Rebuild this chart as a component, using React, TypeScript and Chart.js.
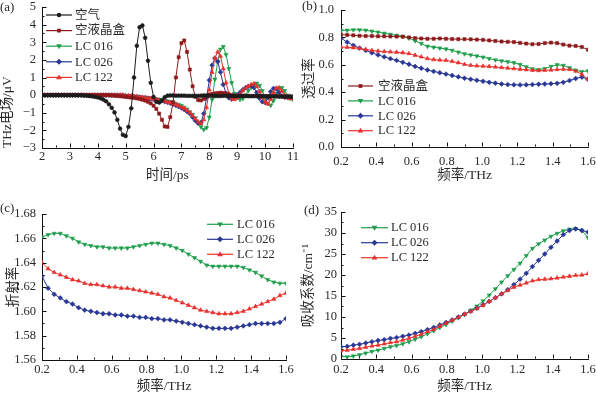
import React, { useEffect, useRef } from 'react';
import Chart from 'chart.js/auto';

const FONT = "'Liberation Serif', 'Noto Sans CJK SC', serif";
const TXT = '#2a2a2a';

// ---------- panel (a): time-domain THz field ----------
const timePs = [
  2.0, 2.1, 2.2, 2.3, 2.4, 2.5, 2.6, 2.7, 2.8, 2.9,
  3.0, 3.1, 3.2, 3.3, 3.4, 3.5, 3.6, 3.7, 3.8, 3.9,
  4.0, 4.1, 4.2, 4.3, 4.4, 4.5, 4.6, 4.7, 4.8, 4.9,
  5.0, 5.1, 5.2, 5.3, 5.4, 5.5, 5.6, 5.7, 5.8, 5.9,
  6.0, 6.1, 6.2, 6.3, 6.4, 6.5, 6.6, 6.7, 6.8, 6.9,
  7.0, 7.1, 7.2, 7.3, 7.4, 7.5, 7.6, 7.7, 7.8, 7.9,
  8.0, 8.1, 8.2, 8.3, 8.4, 8.5, 8.6, 8.7, 8.8, 8.9,
  9.0, 9.1, 9.2, 9.3, 9.4, 9.5, 9.6, 9.7, 9.8, 9.9,
  10.0, 10.1, 10.2, 10.3, 10.4, 10.5, 10.6, 10.7, 10.8, 10.9, 11.0,
];
const fieldAir = [
  0, 0, 0, 0, 0, 0, 0, 0, 0, 0,
  0, 0, 0, 0, 0, -0.02, -0.03, -0.05, -0.07, -0.1,
  -0.13, -0.18, -0.25, -0.35, -0.52, -0.72, -0.98, -1.4, -1.9, -2.25,
  -2.32, -1.8, -0.75, 1.0, 2.8, 3.85, 3.95, 3.25, 1.95, 0.7,
  -0.1, -0.38, -0.42, -0.3, -0.12, -0.03, -0.02, -0.02, -0.03, -0.03,
  -0.03, -0.03, -0.04, -0.04, -0.04, -0.04, -0.04, -0.03, -0.02, -0.02,
  -0.03, -0.04, -0.05, -0.05, -0.05, -0.04, -0.04, -0.05, -0.05, -0.06,
  -0.06, -0.05, -0.05, -0.05, -0.06, -0.06, -0.06, -0.05, -0.05, -0.06,
  -0.06, -0.07, -0.07, -0.07, -0.07, -0.08, -0.08, -0.08, -0.09, -0.09, -0.1,
];
const fieldEmptyCell = [
  0, 0, 0, 0, 0, 0, 0, 0, 0, 0,
  0, 0, 0, 0, 0, 0, 0, 0, 0, 0,
  0, 0, 0, 0, 0, -0.02, -0.03, -0.05, -0.06, -0.08,
  -0.1, -0.12, -0.14, -0.16, -0.19, -0.22, -0.26, -0.31, -0.38, -0.47,
  -0.6, -0.78, -1.05, -1.4, -1.78, -1.8, -1.25, -0.4, 1.0, 2.15,
  2.95, 3.1, 2.45, 1.45, 0.5, -0.1, -0.28, -0.3, -0.22, -0.08,
  0.02, 0.07, 0.1, 0.12, 0.14, 0.12, 0.08, 0.03, 0.0, -0.02,
  -0.03, -0.03, -0.04, -0.04, -0.04, -0.05, -0.05, -0.05, -0.05, -0.05,
  -0.06, -0.06, -0.06, -0.06, -0.07, -0.07, -0.07, -0.08, -0.08, -0.08, -0.09,
];
const fieldLC016 = [
  0, 0, 0, 0, 0, 0, 0, 0, 0, 0,
  0, 0, 0, 0, 0, 0, 0, 0, 0, 0,
  0, 0, 0, 0, 0, 0, 0, 0, 0, 0,
  -0.03, -0.04, -0.05, -0.06, -0.08, -0.1, -0.12, -0.13, -0.15, -0.17,
  -0.2, -0.22, -0.25, -0.27, -0.3, -0.34, -0.38, -0.43, -0.48, -0.54,
  -0.6, -0.7, -0.8, -0.95, -1.1, -1.3, -1.55, -1.8, -1.95, -1.85,
  -1.25, -0.25, 0.9, 1.9, 2.6, 2.75, 2.3, 1.5, 0.7, 0.1,
  -0.15, -0.25, -0.2, 0.0, 0.25, 0.45, 0.6, 0.67, 0.55, 0.25,
  -0.15, -0.48, -0.58, -0.32, 0.1, 0.4, 0.42, 0.25, 0.0, -0.18, -0.25,
];
const fieldLC026 = [
  0, 0, 0, 0, 0, 0, 0, 0, 0, 0,
  0, 0, 0, 0, 0, 0, 0, 0, 0, 0,
  0, 0, 0, 0, 0, 0, 0, 0, 0, 0,
  -0.04, -0.05, -0.06, -0.08, -0.1, -0.12, -0.14, -0.16, -0.18, -0.21,
  -0.24, -0.27, -0.3, -0.33, -0.37, -0.41, -0.46, -0.52, -0.58, -0.65,
  -0.72, -0.82, -0.93, -1.05, -1.25, -1.45, -1.6, -1.55, -1.05, -0.15,
  0.85, 1.7, 2.1, 1.9, 1.3, 0.6, 0.1, -0.15, -0.22, -0.15,
  0.0, 0.15, 0.3, 0.42, 0.5, 0.52, 0.42, 0.15, -0.18, -0.38,
  -0.42, -0.15, 0.2, 0.38, 0.35, 0.15, -0.05, -0.12, -0.12, -0.1, -0.1,
];
const fieldLC122 = [
  0, 0, 0, 0, 0, 0, 0, 0, 0, 0,
  0, 0, 0, 0, 0, 0, 0, 0, 0, 0,
  0, 0, 0, 0, 0, 0, 0, 0, 0, 0,
  -0.03, -0.04, -0.05, -0.07, -0.09, -0.11, -0.13, -0.15, -0.17, -0.19,
  -0.22, -0.25, -0.28, -0.31, -0.35, -0.39, -0.43, -0.48, -0.54, -0.6,
  -0.67, -0.76, -0.87, -1.0, -1.17, -1.35, -1.52, -1.62, -1.4, -0.7,
  0.3, 1.3, 2.1, 2.45, 2.2, 1.5, 0.7, 0.1, -0.2, -0.25,
  -0.15, 0.05, 0.25, 0.4, 0.5, 0.6, 0.65, 0.5, 0.2, -0.15,
  -0.4, -0.5, -0.25, 0.15, 0.4, 0.42, 0.22, -0.02, -0.15, -0.2, -0.2,
];
const aXTicks = [2, 3, 4, 5, 6, 7, 8, 9, 10, 11];
const aXLabels = ['2', '3', '4', '5', '6', '7', '8', '9', '10', '11'];
const aYTicks = [-3, -2, -1, 0, 1, 2, 3, 4, 5];
const aYLabels = ['\u22123', '\u22122', '\u22121', '0', '1', '2', '3', '4', '5'];

// ---------- frequency grid (b, c, d) ----------
const freqTHz = [
  0.2, 0.235, 0.27, 0.305, 0.34, 0.375, 0.41, 0.445, 0.48, 0.515,
  0.55, 0.585, 0.62, 0.655, 0.69, 0.725, 0.76, 0.795, 0.83, 0.865,
  0.9, 0.935, 0.97, 1.005, 1.04, 1.075, 1.11, 1.145, 1.18, 1.215,
  1.25, 1.285, 1.32, 1.355, 1.39, 1.425, 1.46, 1.495, 1.53, 1.565, 1.6,
];
const freqTicks = [0.2, 0.4, 0.6, 0.8, 1.0, 1.2, 1.4, 1.6];
const freqLabels = ['0.2', '0.4', '0.6', '0.8', '1.0', '1.2', '1.4', '1.6'];

// ---------- panel (b): transmittance ----------
const transEmptyCell = [
  0.82, 0.818, 0.815, 0.812, 0.81, 0.81, 0.808, 0.808, 0.807, 0.806,
  0.805, 0.8, 0.795, 0.792, 0.79, 0.79, 0.792, 0.79, 0.788, 0.787,
  0.787, 0.786, 0.784, 0.782, 0.778, 0.774, 0.77, 0.768, 0.766, 0.76,
  0.755, 0.75, 0.752, 0.758, 0.762, 0.758, 0.748, 0.74, 0.738, 0.73, 0.71,
];
const transLC016 = [
  0.85, 0.852, 0.855, 0.855, 0.852, 0.845, 0.838, 0.83, 0.822, 0.815,
  0.808, 0.795, 0.775, 0.755, 0.735, 0.728, 0.722, 0.715, 0.705, 0.692,
  0.68, 0.672, 0.664, 0.656, 0.645, 0.635, 0.628, 0.622, 0.615, 0.602,
  0.585, 0.57, 0.565, 0.572, 0.588, 0.6, 0.595, 0.578, 0.56, 0.55, 0.555,
];
const transLC026 = [
  0.795, 0.765, 0.742, 0.722, 0.705, 0.688, 0.672, 0.658, 0.645, 0.632,
  0.618, 0.604, 0.588, 0.575, 0.562, 0.552, 0.542, 0.532, 0.522, 0.512,
  0.502, 0.494, 0.487, 0.48, 0.472, 0.466, 0.46, 0.456, 0.454, 0.453,
  0.454, 0.456, 0.458, 0.46, 0.462, 0.465, 0.472, 0.485, 0.5, 0.51, 0.495,
];
const transLC122 = [
  0.73, 0.728, 0.725, 0.72, 0.712, 0.705, 0.7, 0.697, 0.694, 0.692,
  0.688, 0.682, 0.67, 0.658, 0.645, 0.638, 0.635, 0.632, 0.625, 0.615,
  0.603, 0.596, 0.592, 0.59, 0.588, 0.584, 0.58, 0.576, 0.572, 0.568,
  0.564, 0.56, 0.558, 0.56, 0.562, 0.566, 0.568, 0.566, 0.555, 0.53, 0.495,
];
const bYTicks = [0, 0.2, 0.4, 0.6, 0.8, 1.0];
const bYLabels = ['0.0', '0.2', '0.4', '0.6', '0.8', '1.0'];

// ---------- panel (c): refractive index ----------
const indexLC016 = [
  1.661, 1.663, 1.664, 1.664, 1.662, 1.66, 1.657, 1.655, 1.654, 1.653,
  1.653, 1.652, 1.652, 1.652, 1.652, 1.653, 1.654, 1.655, 1.656, 1.656,
  1.655, 1.654, 1.652, 1.65, 1.647, 1.644, 1.641, 1.638, 1.637, 1.637,
  1.637, 1.637, 1.637, 1.636, 1.634, 1.632, 1.629, 1.626, 1.624, 1.623, 1.623,
];
const indexLC026 = [
  1.629, 1.619, 1.614, 1.611, 1.608, 1.606, 1.603, 1.601, 1.6, 1.599,
  1.598, 1.598, 1.597, 1.597, 1.596, 1.596, 1.595, 1.595, 1.594, 1.594,
  1.593, 1.593, 1.592, 1.591, 1.59, 1.589, 1.588, 1.587, 1.586, 1.586,
  1.586, 1.586, 1.587, 1.588, 1.589, 1.59, 1.59, 1.59, 1.59, 1.591, 1.594,
];
const indexLC122 = [
  1.64, 1.635, 1.632, 1.63, 1.628, 1.626, 1.625, 1.623, 1.622, 1.622,
  1.621, 1.62, 1.62, 1.619, 1.619, 1.618, 1.617, 1.616, 1.615, 1.614,
  1.612, 1.611, 1.609, 1.607, 1.605, 1.603, 1.601, 1.6, 1.599, 1.598,
  1.598, 1.598, 1.599, 1.6, 1.602, 1.604, 1.606, 1.608, 1.61, 1.613, 1.615,
];
const cYTicks = [1.56, 1.58, 1.6, 1.62, 1.64, 1.66, 1.68];
const cYLabels = ['1.56', '1.58', '1.60', '1.62', '1.64', '1.66', '1.68'];

// ---------- panel (d): absorption coefficient ----------
const absorbLC016 = [
  0.6, 0.5, 0.7, 1.0, 1.4, 1.8, 2.1, 2.5, 2.9, 3.2,
  3.6, 4.1, 4.7, 5.3, 6.0, 6.7, 7.5, 8.2, 9.0, 9.8,
  10.6, 11.6, 12.6, 13.8, 15.2, 16.7, 18.3, 19.8, 21.3, 22.8,
  24.6, 26.3, 27.4, 28.3, 29.2, 29.9, 30.5, 30.9, 31.0, 30.6, 28.9,
];
const absorbLC026 = [
  2.9, 3.0, 3.3, 3.5, 3.8, 4.1, 4.4, 4.6, 4.9, 5.1,
  5.4, 5.7, 6.1, 6.5, 7.0, 7.5, 8.1, 8.7, 9.3, 10.0,
  10.7, 11.4, 12.1, 12.9, 13.7, 14.6, 15.5, 16.5, 17.7, 19.0,
  20.4, 22.0, 23.5, 25.0, 26.6, 28.1, 29.6, 30.6, 31.0, 30.6, 30.2,
];
const absorbLC122 = [
  2.0, 2.1, 2.3, 2.5, 2.8, 3.1, 3.3, 3.6, 3.9, 4.1,
  4.5, 4.9, 5.4, 5.9, 6.5, 7.0, 7.8, 8.5, 9.2, 9.9,
  10.6, 11.3, 12.0, 12.8, 13.7, 14.6, 15.5, 16.3, 17.1, 17.6,
  18.1, 18.6, 18.9, 19.0, 19.1, 19.3, 19.5, 19.7, 19.9, 20.0, 20.3,
];
const dYTicks = [0, 5, 10, 15, 20, 25, 30, 35];
const dYLabels = ['0', '5', '10', '15', '20', '25', '30', '35'];

// ---------- styling ----------
type Style = { label: string; color: string; style: string; rot: number; r: number };
const SERIES: Record<string, Style> = {
  air: { label: '空气', color: '#1c1c1c', style: 'circle', rot: 0, r: 1.9 },
  cell: { label: '空液晶盒', color: '#8e1a1c', style: 'rect', rot: 0, r: 2.2 },
  lc016: { label: 'LC 016', color: '#1f9e4c', style: 'triangle', rot: 180, r: 2.4 },
  lc026: { label: 'LC 026', color: '#2a3895', style: 'rectRot', rot: 0, r: 2.4 },
  lc122: { label: 'LC 122', color: '#e8312d', style: 'triangle', rot: 0, r: 2.4 },
};

function ds(key: string, xs: number[], ys: number[]) {
  const s = SERIES[key];
  return {
    label: s.label,
    data: xs.map((x, i) => ({ x, y: ys[i] })),
    borderColor: s.color,
    backgroundColor: s.color,
    borderWidth: 1,
    pointStyle: s.style,
    pointRotation: s.rot,
    pointRadius: s.r,
    pointBorderWidth: 0.6,
    pointHoverRadius: 0,
    tension: 0,
  };
}

function drawMarker(ctx: CanvasRenderingContext2D, st: Style, x: number, y: number) {
  const r = st.r + 0.3;
  ctx.fillStyle = st.color;
  ctx.beginPath();
  if (st.style === 'circle') {
    ctx.arc(x, y, r, 0, Math.PI * 2);
  } else if (st.style === 'rect') {
    ctx.rect(x - r * 0.75, y - r * 0.75, r * 1.5, r * 1.5);
  } else if (st.style === 'rectRot') {
    ctx.moveTo(x, y - r * 1.1); ctx.lineTo(x + r * 1.1, y); ctx.lineTo(x, y + r * 1.1); ctx.lineTo(x - r * 1.1, y);
  } else {
    const d = st.rot === 180 ? -1 : 1;
    ctx.moveTo(x, y - d * r * 1.1); ctx.lineTo(x + r * 1.05, y + d * r * 0.7); ctx.lineTo(x - r * 1.05, y + d * r * 0.7);
  }
  ctx.closePath();
  ctx.fill();
}

type Panel = {
  id: string; left: number; top: number; w: number; h: number;
  area: { left: number; top: number; right: number; bottom: number };
  datasets: any[];
  keys: string[];
  x: { min: number; max: number; ticks: number[]; labels: string[]; pad: number; title: string; titlePad: number };
  y: { min: number; max: number; ticks: number[]; labels: string[]; pad: number; title: string; titlePad: number; align: string };
  legend: { x1: number; x2: number; tx: number; y0: number; dy: number };
  tag: { text: string; x: number; y: number };
};

const tickFont = { family: FONT, size: 12.5, lineHeight: 1.2 };
const titleFont = { family: FONT, size: 13.5, lineHeight: 1 };

function mids(v: number[]) {
  const out: number[] = [];
  for (let i = 0; i < v.length - 1; i++) out.push((v[i] + v[i + 1]) / 2);
  return out;
}

function makeConfig(p: Panel) {
  const inTicks = {
    id: 'inTicks',
    afterDraw(chart: any) {
      const { ctx, chartArea: a, scales } = chart;
      ctx.save();
      ctx.strokeStyle = '#111';
      ctx.lineWidth = 1;
      ctx.beginPath();
      const xs = scales.x, ys = scales.y;
      const xb = Math.round(a.bottom) - 0.5;
      const yl = Math.round(a.left) + 0.5;
      const hx = (v: number, len: number) => {
        const px = Math.round(xs.getPixelForValue(v)) + 0.5;
        ctx.moveTo(px, xb); ctx.lineTo(px, xb - len);
      };
      const vy = (v: number, len: number) => {
        const py = Math.round(ys.getPixelForValue(v)) + 0.5;
        ctx.moveTo(yl, py); ctx.lineTo(yl + len, py);
      };
      p.x.ticks.forEach((v) => hx(v, 4));
      mids(p.x.ticks).forEach((v) => hx(v, 2));
      p.y.ticks.forEach((v) => vy(v, 4));
      mids(p.y.ticks).forEach((v) => vy(v, 2));
      ctx.stroke();
      ctx.restore();
    },
  };
  const overlay = {
    id: 'overlay',
    afterDraw(chart: any) {
      const ctx: CanvasRenderingContext2D = chart.ctx;
      ctx.save();
      const L = p.legend;
      p.keys.forEach((k, i) => {
        const st = SERIES[k];
        const y = L.y0 + i * L.dy;
        ctx.strokeStyle = st.color;
        ctx.lineWidth = 1.2;
        ctx.beginPath();
        ctx.moveTo(L.x1, y); ctx.lineTo(L.x2, y);
        ctx.stroke();
        drawMarker(ctx, st, (L.x1 + L.x2) / 2, y);
        ctx.fillStyle = TXT;
        ctx.font = `12.5px ${FONT}`;
        ctx.textBaseline = 'middle';
        ctx.textAlign = 'left';
        ctx.fillText(st.label, L.tx, y + 0.5);
      });
      ctx.fillStyle = TXT;
      ctx.font = `13px ${FONT}`;
      ctx.textBaseline = 'middle';
      ctx.textAlign = 'left';
      ctx.fillText(p.tag.text, p.tag.x, p.tag.y);
      ctx.restore();
    },
  };
  const xH = p.h - p.area.bottom;
  const yW = p.area.left;
  return {
    type: 'line',
    data: { datasets: p.datasets },
    options: {
      animation: false,
      responsive: false,
      devicePixelRatio: 1,
      events: [],
      layout: { padding: { left: 0, top: p.area.top, right: p.w - p.area.right, bottom: 0 } },
      plugins: { legend: { display: false }, tooltip: { enabled: false } },
      scales: {
        x: {
          type: 'linear',
          min: p.x.min,
          max: p.x.max,
          grid: { display: false, drawTicks: false },
          border: { display: true, color: '#111', width: 1 },
          ticks: {
            font: tickFont, color: TXT, padding: p.x.pad, maxRotation: 0, autoSkip: false,
            callback: (_v: any, i: number) => p.x.labels[i],
          },
          afterBuildTicks: (s: any) => { s.ticks = p.x.ticks.map((v) => ({ value: v })); },
          afterFit: (s: any) => { s.height = xH; s.paddingLeft = 0; s.paddingRight = 0; },
          title: { display: true, text: p.x.title, font: titleFont, color: TXT, padding: { top: 0, bottom: p.x.titlePad } },
        },
        y: {
          type: 'linear',
          min: p.y.min,
          max: p.y.max,
          grid: { display: false, drawTicks: false },
          border: { display: true, color: '#111', width: 1 },
          ticks: {
            font: tickFont, color: TXT, padding: p.y.pad, autoSkip: false,
            callback: (_v: any, i: number) => p.y.labels[i],
          },
          afterBuildTicks: (s: any) => { s.ticks = p.y.ticks.map((v) => ({ value: v })); },
          afterFit: (s: any) => { s.width = yW; s.paddingTop = 0; s.paddingBottom = 0; },
          title: { display: true, text: p.y.title, font: titleFont, color: TXT, align: p.y.align, padding: { top: p.y.titlePad, bottom: 0 } },
        },
      },
    },
    plugins: [inTicks, overlay],
  };
}

const PANELS: Panel[] = [
  {
    id: 'a', left: 0, top: 0, w: 300, h: 196,
    area: { left: 42, top: 7, right: 293, bottom: 148 },
    keys: ['air', 'cell', 'lc016', 'lc026', 'lc122'],
    datasets: [
      ds('air', timePs, fieldAir),
      ds('cell', timePs, fieldEmptyCell),
      ds('lc122', timePs, fieldLC122),
      ds('lc026', timePs, fieldLC026),
      ds('lc016', timePs, fieldLC016),
    ],
    x: { min: 2, max: 11, ticks: aXTicks, labels: aXLabels, pad: 1, title: '时间/ps', titlePad: 14 },
    y: { min: -3, max: 5, ticks: aYTicks, labels: aYLabels, pad: 6, title: 'THz电场/μV', titlePad: 1, align: 'start' },
    legend: { x1: 46, x2: 72, tx: 75, y0: 15, dy: 15.6 },
    tag: { text: '(a)', x: 0, y: 8 },
  },
  {
    id: 'b', left: 298, top: 0, w: 298, h: 196,
    area: { left: 43, top: 10, right: 290, bottom: 147 },
    keys: ['cell', 'lc016', 'lc026', 'lc122'],
    datasets: [
      ds('cell', freqTHz, transEmptyCell),
      ds('lc122', freqTHz, transLC122),
      ds('lc026', freqTHz, transLC026),
      ds('lc016', freqTHz, transLC016),
    ],
    x: { min: 0.2, max: 1.6, ticks: freqTicks, labels: freqLabels, pad: 7, title: '频率/THz', titlePad: 14 },
    y: { min: 0, max: 1, ticks: bYTicks, labels: bYLabels, pad: 7, title: '透过率', titlePad: 4.5, align: 'center' },
    legend: { x1: 50, x2: 75, tx: 80, y0: 86, dy: 14.9 },
    tag: { text: '(b)', x: 4, y: 7 },
  },
  {
    id: 'c', left: 0, top: 196, w: 298, h: 197,
    area: { left: 42, top: 18, right: 286, bottom: 164 },
    keys: ['lc016', 'lc026', 'lc122'],
    datasets: [
      ds('lc122', freqTHz, indexLC122),
      ds('lc026', freqTHz, indexLC026),
      ds('lc016', freqTHz, indexLC016),
    ],
    x: { min: 0.2, max: 1.6, ticks: freqTicks, labels: freqLabels, pad: 2, title: '频率/THz', titlePad: 0 },
    y: { min: 1.56, max: 1.68, ticks: cYTicks, labels: cYLabels, pad: 6, title: '折射率', titlePad: 6.5, align: 'center' },
    legend: { x1: 207, x2: 233, tx: 237, y0: 28.3, dy: 15 },
    tag: { text: '(c)', x: 0, y: 13 },
  },
  {
    id: 'd', left: 298, top: 196, w: 298, h: 197,
    area: { left: 43, top: 16, right: 290, bottom: 163 },
    keys: ['lc016', 'lc026', 'lc122'],
    datasets: [
      ds('lc122', freqTHz, absorbLC122),
      ds('lc026', freqTHz, absorbLC026),
      ds('lc016', freqTHz, absorbLC016),
    ],
    x: { min: 0.2, max: 1.6, ticks: freqTicks, labels: freqLabels, pad: 3, title: '频率/THz', titlePad: 0 },
    y: { min: 0, max: 35, ticks: dYTicks, labels: dYLabels, pad: 4, title: '吸收系数/cm⁻¹', titlePad: 4, align: 'center' },
    legend: { x1: 63, x2: 90, tx: 93, y0: 31.7, dy: 15 },
    tag: { text: '(d)', x: 6, y: 15 },
  },
];

function PanelChart({ p }: { p: Panel }) {
  const ref = useRef<HTMLCanvasElement>(null);
  useEffect(() => {
    const chart = new Chart(ref.current as HTMLCanvasElement, makeConfig(p) as any);
    return () => chart.destroy();
  }, [p]);
  return (
    <div style={{ position: 'absolute', left: p.left, top: p.top, width: p.w, height: p.h }}>
      <canvas ref={ref} width={p.w} height={p.h} style={{ width: p.w, height: p.h, display: 'block' }} />
    </div>
  );
}

export default function App() {
  return (
    <div style={{ position: 'absolute', left: 0, top: 0, width: 596, height: 393, background: '#ffffff', overflow: 'hidden' }}>
      {PANELS.map((p) => (
        <PanelChart key={p.id} p={p} />
      ))}
    </div>
  );
}
